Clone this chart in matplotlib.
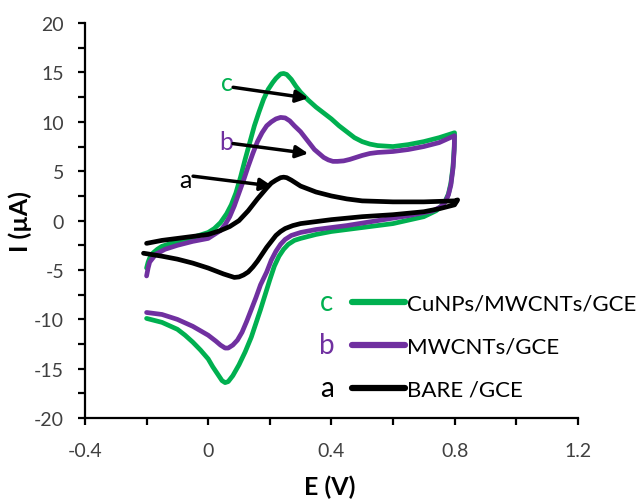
import matplotlib
matplotlib.use('Agg')
from matplotlib import pyplot as plt

plt.rcParams['axes.unicode_minus'] = False  # plain hyphen like the original

# CuNPs/MWCNTs/GCE (c) - forward scan then reverse scan
e_c = [-0.20, -0.195, -0.19, -0.18, -0.165, -0.15, -0.10, -0.05, 0.00, 0.02,
       0.04, 0.06, 0.075, 0.09, 0.105, 0.12, 0.135, 0.15, 0.165, 0.18, 0.195,
       0.21, 0.22, 0.235, 0.245, 0.255, 0.27, 0.285, 0.30, 0.325, 0.35, 0.375,
       0.40, 0.425, 0.45, 0.475, 0.50, 0.525, 0.55, 0.60, 0.65, 0.70, 0.75,
       0.80,
       0.799, 0.795, 0.788, 0.78, 0.77, 0.755, 0.74, 0.72, 0.70, 0.60, 0.50,
       0.40, 0.35, 0.30, 0.28, 0.26, 0.245, 0.23, 0.215, 0.20, 0.185, 0.17,
       0.155, 0.14, 0.12, 0.10, 0.08, 0.065, 0.055, 0.045, 0.03, 0.015, 0.00,
       -0.025, -0.05, -0.075, -0.10, -0.15, -0.20]
i_c = [-4.8, -4.2, -3.8, -3.3, -2.9, -2.6, -2.1, -1.7, -1.2, -0.8,
       -0.2, 0.7, 1.6, 2.8, 4.4, 6.2, 7.9, 9.6, 11.0, 12.3, 13.3,
       14.0, 14.4, 14.85, 14.9, 14.8, 14.3, 13.6, 13.0, 12.2, 11.5, 10.9,
       10.3, 9.6, 9.0, 8.4, 8.0, 7.75, 7.6, 7.5, 7.7, 8.0, 8.4,
       8.9,
       7.5, 5.5, 3.8, 2.7, 2.0, 1.4, 1.0, 0.7, 0.4, -0.3, -0.7,
       -1.1, -1.4, -1.8, -2.0, -2.4, -2.9, -3.6, -4.6, -6.0, -7.5, -9.0,
       -10.4, -11.8, -13.3, -14.6, -15.7, -16.3, -16.4, -16.2, -15.5, -14.8, -14.0,
       -13.1, -12.3, -11.6, -11.0, -10.3, -9.9]

# MWCNTs/GCE (b)
e_b = [-0.20, -0.195, -0.19, -0.17, -0.14, -0.10, -0.05, 0.00, 0.04, 0.055,
       0.07, 0.085, 0.10, 0.115, 0.13, 0.145, 0.16, 0.175, 0.19, 0.205, 0.22,
       0.235, 0.25, 0.265, 0.28, 0.30, 0.315, 0.33, 0.345, 0.36, 0.375, 0.39,
       0.405, 0.42, 0.44, 0.46, 0.48, 0.50, 0.525, 0.55, 0.60, 0.65, 0.70,
       0.75, 0.80,
       0.799, 0.795, 0.788, 0.78, 0.77, 0.755, 0.73, 0.65, 0.55, 0.45, 0.35,
       0.30, 0.27, 0.25, 0.235, 0.22, 0.205, 0.19, 0.17, 0.155, 0.14, 0.125,
       0.11, 0.095, 0.08, 0.065, 0.055, 0.04, 0.025, 0.00, -0.05, -0.10, -0.15,
       -0.20]
i_b = [-5.6, -4.8, -4.2, -3.4, -2.9, -2.5, -2.1, -1.8, -1.0, -0.4,
       0.4, 1.5, 2.8, 4.1, 5.5, 6.8, 8.0, 8.9, 9.6, 10.0, 10.3,
       10.45, 10.4, 10.1, 9.6, 9.0, 8.4, 7.8, 7.2, 6.8, 6.4, 6.15,
       6.0, 6.0, 6.05, 6.2, 6.4, 6.6, 6.8, 6.9, 7.0, 7.2, 7.5,
       7.9, 8.6,
       7.2, 5.3, 3.6, 2.6, 1.9, 1.4, 1.0, 0.5, 0.0, -0.5, -0.9,
       -1.2, -1.5, -1.9, -2.4, -3.1, -4.0, -5.2, -6.5, -7.8, -9.0, -10.2,
       -11.3, -12.1, -12.6, -12.9, -12.9, -12.6, -12.2, -11.6, -10.7, -10.0, -9.5,
       -9.3]

# BARE /GCE (a)
e_a = [-0.20, -0.15, -0.10, -0.05, 0.00, 0.04, 0.07, 0.10, 0.13, 0.16,
       0.19, 0.205, 0.22, 0.235, 0.245, 0.255, 0.27, 0.285, 0.30, 0.325, 0.35,
       0.40, 0.45, 0.50, 0.60, 0.70, 0.80, 0.81,
       0.80, 0.75, 0.70, 0.60, 0.50, 0.40, 0.35, 0.30, 0.275, 0.25, 0.235,
       0.22, 0.205, 0.19, 0.175, 0.16, 0.145, 0.13, 0.115, 0.10, 0.085, 0.07,
       0.05, 0.025, 0.00, -0.05, -0.10, -0.15, -0.21]
i_a = [-2.3, -2.0, -1.8, -1.6, -1.4, -1.0, -0.6, 0.0, 1.0, 2.2,
       3.3, 3.8, 4.1, 4.35, 4.4, 4.35, 4.1, 3.8, 3.5, 3.2, 2.9,
       2.5, 2.2, 2.0, 1.9, 1.9, 2.0, 2.1,
       1.6, 1.2, 0.9, 0.6, 0.4, 0.1, -0.1, -0.3, -0.5, -0.8, -1.1,
       -1.5, -2.1, -2.7, -3.4, -4.1, -4.7, -5.2, -5.5, -5.7, -5.75, -5.6,
       -5.4, -5.1, -4.8, -4.3, -3.9, -3.6, -3.3]

labels = ['CuNPs/MWCNTs/GCE', 'MWCNTs/GCE', 'BARE /GCE']
letters = ['c', 'b', 'a']
colors = ['#00B050', '#7030A0', 'black']

# letter label position and arrow (tail -> head) for each curve
letter_xy = [(0.062, 14.0), (0.058, 8.0), (-0.075, 4.2)]
arrow_tail = [(0.081, 13.5), (0.081, 7.8), (-0.049, 4.5)]
arrow_head = [(0.325, 12.4), (0.325, 6.8), (0.208, 3.5)]

font = 'Lato'

fig = plt.figure(figsize=(6.37, 5.02), dpi=100)
ax = fig.add_axes([0.1334, 0.165, 0.7736, 0.787])

curves = [(e_c, i_c), (e_b, i_b), (e_a, i_a)]
for (e, i), col, lab in zip(curves, colors, labels):
    ax.plot(e, i, color=col, linewidth=3.4, label=lab,
            solid_capstyle='round', solid_joinstyle='round')

for k in range(3):
    ax.text(letter_xy[k][0], letter_xy[k][1], letters[k], color=colors[k],
            fontsize=18, family=font, ha='center', va='center')
    ax.annotate('', xy=arrow_head[k], xytext=arrow_tail[k],
                arrowprops=dict(arrowstyle='-|>', color='black', lw=2.5,
                                mutation_scale=18, shrinkA=0, shrinkB=0))

ax.set_xlim(-0.4, 1.2)
ax.set_ylim(-20, 20)
ax.set_xticks([-0.4, 0, 0.4, 0.8, 1.2])
ax.set_xticklabels(['-0.4', '0', '0.4', '0.8', '1.2'])
ax.set_xticks([-0.2, 0.2, 0.6, 1.0], minor=True)
ax.set_yticks(range(-20, 21, 5))
ax.set_yticks([-17.5, -12.5, -7.5, -2.5, 2.5, 7.5, 12.5, 17.5], minor=True)

ax.spines['right'].set_visible(False)  # Removes right axis
ax.spines['top'].set_visible(False)
ax.spines['left'].set_linewidth(1.6)
ax.spines['bottom'].set_linewidth(1.6)
ax.tick_params(axis='both', which='both', direction='out', length=5,
               width=1.6, colors='black')
ax.tick_params(axis='both', labelsize=14, labelcolor='#404040')
ax.tick_params(axis='x', pad=12)
ax.tick_params(axis='y', pad=10)
for t in ax.get_xticklabels() + ax.get_yticklabels():
    t.set_family(font)

ax.set_xlabel('E (V)', fontsize=18, fontweight='bold', family=font,
              va='center', ha='center')
ax.set_ylabel('I (µA)', fontsize=18, fontweight='bold', family=font,
              va='center', ha='center')
ax.xaxis.set_label_coords(0.497, -0.172)
ax.yaxis.set_label_coords(-0.132, 0.5)

leg = ax.legend(loc='upper left', bbox_to_anchor=(0.5416, 0.316), frameon=False,
                prop={'family': font, 'size': 16}, handlelength=2.4,
                handletextpad=0.1, labelspacing=1.04, borderpad=0,
                borderaxespad=0)
for line in leg.get_lines():
    line.set_linewidth(4.5)

# letters in front of the legend entries
fig.canvas.draw()
rend = fig.canvas.get_renderer()
for k, line in enumerate(leg.get_lines()):
    bb = line.get_window_extent(rend)
    yc = (bb.y0 + bb.y1) / 2
    fig.text((bb.x0 - 25) / fig.bbox.width, yc / fig.bbox.height, letters[k],
             color=colors[k], fontsize=20, family=font,
             ha='center', va='center')

plt.savefig('out.png', dpi=100)
